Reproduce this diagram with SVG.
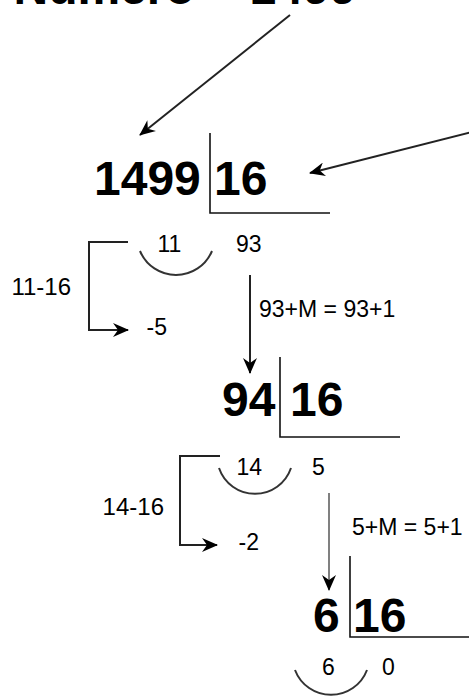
<svg xmlns="http://www.w3.org/2000/svg" width="469" height="697" viewBox="0 0 469 697">
<style>
.big{font-family:"Liberation Sans",Arial,sans-serif;font-weight:bold;font-size:48px;fill:#000}
.sm{font-family:"Liberation Sans",Arial,sans-serif;font-size:23px;fill:#000}
.lbl{font-family:"Liberation Sans",Arial,sans-serif;font-size:24px;fill:#000}
.div{fill:none;stroke:#111;stroke-width:1.6}
.arc{fill:none;stroke:#333;stroke-width:2}
.conn{fill:none;stroke:#222;stroke-width:2}
</style>
<defs>
<marker id="ah" markerUnits="userSpaceOnUse" viewBox="0 0 16 14" refX="15" refY="7" markerWidth="16" markerHeight="14" orient="auto">
<path d="M0,0 L16,7 L0,14 L5,7 Z" fill="#000"/>
</marker>
</defs>
<rect width="469" height="697" fill="#fff"/>
<g id="title"><text class="big" x="13.5" y="4">Numero = 1499</text></g>
<g id="div1">
<text class="big" x="94" y="195">1499</text>
<text class="big" x="214" y="195">16</text>
<path class="div" d="M210,133 V213 H330"/>
</g>
<g id="rem1">
<text class="sm" x="157.5" y="252">11</text>
<text class="sm" x="236" y="252">93</text>
<path class="arc" d="M140,251 A39,39 0 0 0 212,251"/>
</g>
<g id="sub1">
<text class="lbl" x="71" y="295" text-anchor="end">11-16</text>
<text class="sm" x="146.5" y="335">-5</text>
</g>
<g id="add1"><text class="sm" x="259" y="317">93+M = 93+1</text></g>
<g id="div2">
<text class="big" x="222" y="416">94</text>
<text class="big" x="290" y="416">16</text>
<path class="div" d="M280,357 V437 H400"/>
</g>
<g id="rem2">
<text class="sm" x="236.5" y="475">14</text>
<text class="sm" x="312" y="475">5</text>
<path class="arc" d="M219,468 A38,38 0 0 0 291,468"/>
</g>
<g id="sub2">
<text class="lbl" x="164" y="515" text-anchor="end">14-16</text>
<text class="sm" x="238.5" y="550">-2</text>
</g>
<g id="add2"><text class="sm" x="352" y="535">5+M = 5+1</text></g>
<g id="div3">
<text class="big" x="313" y="632">6</text>
<text class="big" x="353" y="632">16</text>
<path class="div" d="M350,556 V637 H469"/>
</g>
<g id="rem3">
<text class="sm" x="322" y="675">6</text>
<text class="sm" x="382" y="675">0</text>
<path class="arc" d="M295,670 A38.5,38.5 0 0 0 367,670"/>
</g>
<g id="connectors">
<line class="conn" x1="290" y1="15" x2="140" y2="135" marker-end="url(#ah)"/>
<line class="conn" x1="476" y1="131" x2="310" y2="173" marker-end="url(#ah)"/>
<polyline class="conn" points="128,242 89,242 89,330 128,330" marker-end="url(#ah)"/>
<line class="conn" x1="250" y1="275" x2="250" y2="373" stroke="#333" marker-end="url(#ah)"/>
<polyline class="conn" points="220,456 180,456 180,545 217,545" marker-end="url(#ah)"/>
<line x1="329" y1="493" x2="329" y2="590" stroke="#808080" stroke-width="2" marker-end="url(#ah)"/>
</g>
</svg>
